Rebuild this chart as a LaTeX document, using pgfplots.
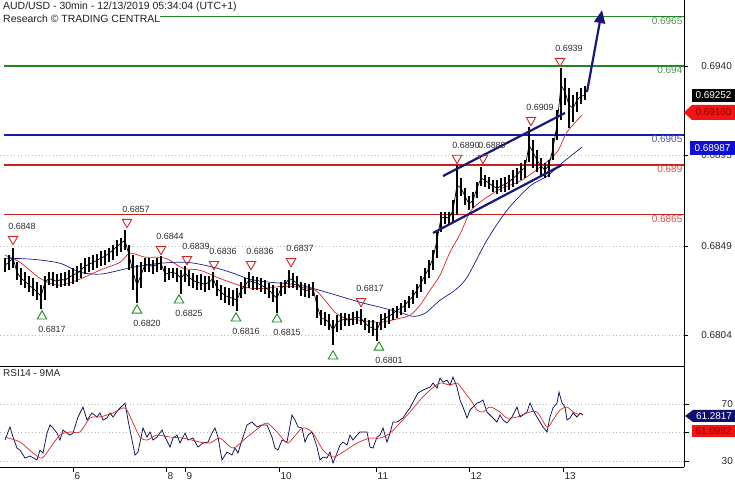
\documentclass[border=0pt]{standalone}
\usepackage{pgfplots}
\pgfplotsset{compat=1.18}
\usepackage{pgfplotstable}
\usepackage{fontspec}
\setmainfont{Liberation Sans}
\usetikzlibrary{arrows.meta}
\definecolor{lvgreen}{RGB}{34,135,34}
\definecolor{lvblue}{RGB}{25,25,170}
\definecolor{lvred}{RGB}{205,30,30}
\definecolor{txgreen}{RGB}{75,150,75}
\definecolor{txblue}{RGB}{80,80,185}
\definecolor{txred}{RGB}{220,75,75}
\definecolor{mared}{RGB}{210,40,40}
\definecolor{mablue}{RGB}{25,25,145}
\definecolor{chnavy}{RGB}{25,25,115}
\definecolor{rsinavy}{RGB}{15,15,80}
\definecolor{trired}{RGB}{205,40,40}
\definecolor{trigreen}{RGB}{30,140,30}
\definecolor{labgray}{RGB}{45,45,45}
\definecolor{boxred}{RGB}{240,20,20}
\definecolor{boxredtx}{RGB}{150,0,0}
\definecolor{boxblue}{RGB}{15,15,205}
\definecolor{boxnavy}{RGB}{15,15,110}
\newcommand\fa{\fontsize{10}{12}\selectfont}
\newcommand\fb{\fontsize{9}{11}\selectfont}
\newcommand\ft{\fontsize{10.5}{13}\selectfont}

\pgfplotstableread{
x h l c
5 0.68429 0.68358 0.68393
9 0.68444 0.68368 0.68408
13 0.68480 0.68378 0.68429
17 0.68408 0.68317 0.68358
21 0.68378 0.68292 0.68327
25 0.68358 0.68277 0.68312
29 0.68337 0.68257 0.68292
33 0.68327 0.68236 0.68277
37 0.68307 0.68216 0.68257
41 0.68292 0.68170 0.68236
45 0.68337 0.68216 0.68307
49 0.68358 0.68292 0.68327
53 0.68358 0.68287 0.68317
57 0.68348 0.68277 0.68312
61 0.68353 0.68282 0.68322
65 0.68358 0.68287 0.68317
69 0.68368 0.68287 0.68332
73 0.68378 0.68297 0.68343
77 0.68388 0.68307 0.68353
81 0.68403 0.68327 0.68368
85 0.68429 0.68348 0.68388
89 0.68434 0.68358 0.68398
93 0.68444 0.68368 0.68408
97 0.68449 0.68378 0.68418
101 0.68464 0.68388 0.68429
105 0.68469 0.68393 0.68439
109 0.68479 0.68408 0.68454
113 0.68494 0.68418 0.68469
117 0.68520 0.68439 0.68489
121 0.68530 0.68459 0.68504
125 0.68570 0.68469 0.68520
129 0.68494 0.68368 0.68444
133 0.68444 0.68267 0.68358
137 0.68393 0.68200 0.68292
141 0.68408 0.68277 0.68343
145 0.68429 0.68358 0.68398
149 0.68429 0.68358 0.68393
153 0.68418 0.68348 0.68388
157 0.68429 0.68358 0.68398
161 0.68440 0.68368 0.68403
165 0.68388 0.68307 0.68348
169 0.68378 0.68317 0.68353
173 0.68378 0.68327 0.68358
177 0.68378 0.68307 0.68348
181 0.68368 0.68250 0.68327
185 0.68390 0.68307 0.68353
189 0.68368 0.68287 0.68332
193 0.68353 0.68277 0.68317
197 0.68343 0.68267 0.68307
201 0.68348 0.68267 0.68302
205 0.68337 0.68257 0.68297
209 0.68337 0.68267 0.68307
213 0.68360 0.68277 0.68327
217 0.68317 0.68236 0.68277
221 0.68292 0.68216 0.68257
225 0.68282 0.68201 0.68241
229 0.68277 0.68191 0.68231
233 0.68267 0.68186 0.68226
237 0.68277 0.68160 0.68216
241 0.68307 0.68226 0.68267
245 0.68327 0.68246 0.68292
249 0.68360 0.68277 0.68317
253 0.68337 0.68267 0.68307
257 0.68332 0.68267 0.68302
261 0.68327 0.68257 0.68292
265 0.68317 0.68246 0.68282
269 0.68302 0.68226 0.68267
273 0.68292 0.68206 0.68246
277 0.68277 0.68150 0.68226
281 0.68307 0.68236 0.68277
285 0.68317 0.68246 0.68292
289 0.68370 0.68277 0.68327
293 0.68353 0.68277 0.68317
297 0.68337 0.68267 0.68302
301 0.68307 0.68236 0.68277
305 0.68302 0.68231 0.68267
309 0.68297 0.68226 0.68267
313 0.68307 0.68236 0.68277
317 0.68241 0.68125 0.68191
321 0.68165 0.68090 0.68125
325 0.68155 0.68084 0.68120
329 0.68145 0.68064 0.68105
333 0.68115 0.67988 0.68064
337 0.68140 0.68054 0.68105
341 0.68150 0.68064 0.68115
345 0.68150 0.68084 0.68120
349 0.68145 0.68084 0.68115
353 0.68155 0.68090 0.68125
357 0.68160 0.68095 0.68130
361 0.68170 0.68090 0.68125
365 0.68125 0.68064 0.68100
369 0.68115 0.68049 0.68084
373 0.68115 0.68034 0.68074
377 0.68105 0.68010 0.68064
381 0.68145 0.68064 0.68115
385 0.68150 0.68074 0.68125
389 0.68165 0.68095 0.68135
393 0.68176 0.68115 0.68150
397 0.68186 0.68125 0.68165
401 0.68201 0.68140 0.68176
405 0.68216 0.68155 0.68191
409 0.68236 0.68176 0.68216
413 0.68267 0.68196 0.68236
417 0.68297 0.68226 0.68267
421 0.68337 0.68257 0.68302
425 0.68378 0.68297 0.68343
429 0.68418 0.68327 0.68378
433 0.68469 0.68368 0.68429
437 0.68560 0.68429 0.68520
441 0.68661 0.68560 0.68631
445 0.68661 0.68601 0.68636
449 0.68661 0.68596 0.68631
453 0.68722 0.68611 0.68671
457 0.68900 0.68646 0.68798
461 0.68833 0.68742 0.68783
465 0.68783 0.68697 0.68742
469 0.68742 0.68671 0.68702
473 0.68763 0.68682 0.68722
477 0.68813 0.68732 0.68783
481 0.68890 0.68793 0.68833
485 0.68849 0.68788 0.68823
489 0.68838 0.68778 0.68808
493 0.68823 0.68763 0.68793
497 0.68823 0.68752 0.68783
501 0.68833 0.68763 0.68793
505 0.68838 0.68763 0.68803
509 0.68849 0.68773 0.68813
513 0.68874 0.68788 0.68833
517 0.68884 0.68803 0.68849
521 0.68909 0.68823 0.68874
525 0.68924 0.68833 0.68884
529 0.69090 0.68914 0.69000
533 0.69026 0.68884 0.68965
537 0.68975 0.68864 0.68924
541 0.68935 0.68849 0.68894
545 0.68909 0.68833 0.68874
549 0.68924 0.68838 0.68899
553 0.69036 0.68924 0.68985
557 0.69177 0.69026 0.69102
561 0.69390 0.69127 0.69304
565 0.69339 0.69203 0.69269
569 0.69289 0.69086 0.69203
573 0.69253 0.69117 0.69188
577 0.69269 0.69167 0.69228
581 0.69289 0.69208 0.69248
585 0.69299 0.69228 0.69252
}\bars

\pgfplotstableread{
x y
5 0.68444
20 0.68408
40 0.68327
58 0.68292
77 0.68317
100 0.68368
120 0.68408
130 0.68454
145 0.68434
165 0.68429
183 0.68378
200 0.68368
217 0.68332
233 0.68302
250 0.68277
267 0.68277
283 0.68287
300 0.68282
315 0.68267
325 0.68216
335 0.68155
345 0.68125
360 0.68115
380 0.68105
400 0.68125
410 0.68140
420 0.68191
430 0.68267
440 0.68343
450 0.68459
460 0.68550
470 0.68661
480 0.68712
500 0.68778
520 0.68818
540 0.68889
557 0.68965
567 0.69066
582 0.69152
}\redma

\pgfplotstableread{
x y
5 0.68429
33 0.68423
60 0.68403
80 0.68358
100 0.68348
120 0.68368
133 0.68383
160 0.68403
185 0.68408
200 0.68398
217 0.68378
233 0.68353
250 0.68322
270 0.68307
300 0.68292
330 0.68251
360 0.68206
380 0.68181
400 0.68155
413 0.68135
425 0.68150
440 0.68216
455 0.68267
467 0.68332
487 0.68520
507 0.68671
530 0.68793
547 0.68843
563 0.68914
582 0.68990
}\bluema

\pgfplotstableread{
x y
5 44.7
10 53.9
13 46.8
17 39.1
20 37.7
25 32.1
30 33.5
37 30.7
40 37.7
43 35.6
47 49.6
50 55.3
53 53.2
57 49.6
60 44.7
63 51.8
67 49.6
70 48.2
73 49.6
78 60.9
83 67.9
87 58.8
92 63.7
97 60.9
100 63.7
103 58.8
107 60.2
110 63.7
113 60.9
118 65.8
125 70.7
128 58.8
132 44.7
135 34.2
138 36.3
143 53.2
147 46.8
150 50.4
153 44.7
157 46.8
162 51.8
165 46.8
170 39.8
173 46.1
177 48.2
180 42.6
185 49.6
188 44.7
193 46.1
198 39.8
203 42.6
208 43.3
212 49.6
215 53.2
218 46.8
222 30.7
227 36.3
232 34.2
235 39.1
238 35.6
242 44.7
247 55.3
252 57.4
257 53.9
262 55.3
267 55.3
272 46.8
275 39.1
278 37.7
282 44.7
287 43.3
292 62.3
295 58.8
298 53.9
302 53.2
305 43.3
308 48.2
312 50.4
317 39.8
320 30.7
323 32.8
327 32.1
330 36.3
333 28.6
337 35.6
340 41.2
343 43.3
347 41.2
350 48.2
353 44.7
357 48.2
360 50.4
363 50.4
367 50.4
370 39.8
373 39.1
377 46.8
380 48.2
383 53.2
387 43.3
390 49.6
393 57.4
397 57.4
400 58.8
403 60.2
407 64.4
410 67.2
413 71.4
418 77.7
423 79.8
430 81.9
433 84.7
437 81.2
440 88.2
443 85.4
447 86.8
450 83.3
453 88.9
457 81.9
460 72.8
463 67.9
467 60.2
470 65.8
473 67.9
477 70.7
480 71.4
483 72.8
487 64.4
490 62.3
493 60.2
497 57.4
500 62.3
503 58.8
507 56.7
512 60.9
517 67.9
520 60.9
523 62.3
527 64.4
530 70.7
533 65.8
537 60.9
540 57.4
543 53.9
547 50.4
550 60.9
553 67.2
557 70.7
559 78.4
562 70.7
565 67.9
567 58.8
570 60.2
573 63.7
577 60.9
580 63.7
583 62.3
}\rsi

\pgfplotstableread{
x y
5 46.8
20 43.3
33 35.6
42 32.1
50 39.1
60 48.2
70 50.4
80 50.4
90 60.2
100 60.9
113 63.7
125 67.2
133 56.7
140 46.8
147 44.7
157 48.2
170 46.8
183 46.1
200 43.3
210 42.6
220 46.1
233 39.1
247 46.8
260 53.9
267 56.7
277 50.4
287 42.6
293 46.1
300 51.8
305 53.2
313 49.6
323 37.7
333 32.8
343 36.3
357 42.6
370 46.1
380 46.1
390 49.6
400 56.7
410 64.4
420 72.8
430 79.8
440 84.7
450 83.3
457 84.7
463 79.8
472 71.4
477 65.8
483 64.4
490 67.9
500 64.4
507 60.2
517 60.9
527 63.7
537 64.4
547 53.9
553 58.8
560 65.8
567 67.9
573 64.4
580 62.3
}\rsima

\pgfplotstableread{
x y lab
13 0.68525 0.6848
127 0.68611 0.6857
161 0.68474 0.6844
187 0.68423 0.6839
214 0.68398 0.6836
251 0.68398 0.6836
291 0.68413 0.6837
361 0.68211 0.6817
457 0.68935 0.6890
483 0.68935 0.6889
531 0.69127 0.6909
560 0.69425 0.6939
}\highs

\pgfplotstableread{
x y lab
42 0.68135 0.6817
137 0.68165 0.6820
179 0.68216 0.6825
236 0.68125 0.6816
277 0.68120 0.6815
379 0.67978 0.6801
}\lows

\begin{document}
\begin{tikzpicture}
\path[use as bounding box] (0,0) rectangle (735bp,480bp);

\begin{axis}[
  at={(0bp,114bp)}, anchor=south west, scale only axis,
  width=684bp, height=366bp,
  xmin=0, xmax=684, ymin=0.678836, ymax=0.69734,
  axis x line*=bottom, axis y line*=right,
  axis line style={black, line width=0.8bp},
  xtick=\empty,
  ytick={0.6804,0.6849,0.6895,0.6940},
  yticklabels={0.6804,0.6849,0.6895,0.6940},
  ymajorgrids,
  major grid style={black!28, line width=0.6bp, dash pattern=on 1bp off 2.5bp},
  tick align=outside, major tick length=4bp,
  tick style={black, line width=0.6bp},
  yticklabel style={font=\fa, text=black!85, anchor=east, inner sep=0pt, xshift=44bp},
  clip=false,
]
% level lines
\addplot[lvgreen, line width=1.7bp] coordinates {(160,0.6965) (684,0.6965)};
\addplot[lvgreen, line width=1.7bp] coordinates {(4,0.6940) (684,0.6940)};
\addplot[lvblue, line width=1.7bp] coordinates {(4,0.6905) (684,0.6905)};
\addplot[lvred, line width=1.7bp] coordinates {(4,0.6890) (684,0.6890)};
\addplot[lvred, line width=1.7bp] coordinates {(4,0.6865) (684,0.6865)};
\node[anchor=north east, inner sep=0.5pt, font=\fa, text=txgreen] at (axis cs:683,0.6965) {0.6965};
\node[anchor=north east, inner sep=0.5pt, font=\fa, text=txgreen] at (axis cs:683,0.6940) {0.694};
\node[anchor=north east, inner sep=0.5pt, font=\fa, text=txblue] at (axis cs:683,0.6905) {0.6905};
\node[anchor=north east, inner sep=0.5pt, font=\fa, text=txred] at (axis cs:683,0.6890) {0.689};
\node[anchor=north east, inner sep=0.5pt, font=\fa, text=txred] at (axis cs:683,0.6865) {0.6865};
% moving averages
\addplot[mablue, line width=0.7bp, smooth] table[x=x,y=y] {\bluema};
\addplot[mared, line width=0.7bp, smooth] table[x=x,y=y] {\redma};
% price bars
\addplot[black, line width=0.7bp,
  error bars/.cd, y dir=both, y explicit, error mark=none,
  error bar style={black, line width=2.1bp}]
  table[x=x, y=c, y error plus expr=\thisrow{h}-\thisrow{c}, y error minus expr=\thisrow{c}-\thisrow{l}] {\bars};
% channel and target arrow
\addplot[chnavy, line width=2.2bp] coordinates {(443,0.68844) (565,0.69163)};
\addplot[chnavy, line width=2.2bp] coordinates {(433,0.68556) (562,0.68900)};
\addplot[chnavy, line width=2.2bp, -{Triangle[length=13bp,width=11bp]}] coordinates {(587,0.69269) (602,0.69683)};
% swing markers
\addplot[only marks, mark=triangle, mark size=5.5bp,
  mark options={rotate=180, draw=trired, line width=0.9bp, fill=none},
  nodes near coords, point meta=explicit symbolic,
  every node near coord/.style={anchor=center, xshift=9bp, yshift=13bp, font=\fb, text=labgray, inner sep=0pt}]
  table[x=x, y=y, meta=lab] {\highs};
\addplot[only marks, mark=triangle, mark size=5.5bp,
  mark options={draw=trigreen, line width=0.9bp, fill=none},
  nodes near coords, point meta=explicit symbolic,
  every node near coord/.style={anchor=center, xshift=10bp, yshift=-13bp, font=\fb, text=labgray, inner sep=0pt}]
  table[x=x, y=y, meta=lab] {\lows};
\addplot[only marks, mark=triangle, mark size=5.5bp,
  mark options={draw=trigreen, line width=0.9bp, fill=none}]
  coordinates {(333,0.67933)};
\end{axis}

\begin{axis}[
  at={(0bp,13bp)}, anchor=south west, scale only axis,
  width=684bp, height=101bp,
  xmin=0, xmax=684, ymin=25.8, ymax=96.7,
  axis x line*=bottom, axis y line*=right,
  axis line style={black, line width=0.8bp},
  xtick={73,166,185,279,376,469,563},
  xticklabels={6,8,9,10,11,12,13},
  ytick={30,50,70}, yticklabels={30,,70},
  ymajorgrids,
  major grid style={black!28, line width=0.6bp, dash pattern=on 1bp off 2.5bp},
  tick align=outside, major tick length=5bp,
  tick style={black, line width=0.6bp},
  yticklabel style={font=\fa, text=black!85, anchor=east, inner sep=0pt, xshift=44bp},
  xticklabel style={font=\fa, text=black!85, anchor=north west, inner sep=0pt, xshift=1.5bp},
  clip=false,
]
\addplot[rsinavy, line width=0.75bp] table[x=x,y=y] {\rsi};
\addplot[mared, line width=0.7bp, smooth] table[x=x,y=y] {\rsima};
\end{axis}

% title texts
\node[anchor=north west, inner sep=0pt, align=left, font=\ft, text=black!88] at (3bp,478bp)
  {AUD/USD - 30min - 12/13/2019 05:34:04 (UTC+1)\\Research © TRADING CENTRAL};
\node[anchor=north west, inner sep=0pt, font=\fa, text=black!85] at (3bp,111bp) {RSI14 - 9MA};

% right-hand value boxes
\fill[black] (692bp,378bp) rectangle (735bp,391bp);
\node[font=\fa, text=white, inner sep=0pt] at (713.5bp,384.5bp) {0.69252};
\fill[boxred] (684bp,367.5bp) -- (692bp,375bp) -- (735bp,375bp) -- (735bp,360bp) -- (692bp,360bp) -- cycle;
\node[font=\fa, text=boxredtx, inner sep=0pt] at (713.5bp,367.5bp) {0.69160};
\fill[boxblue] (690bp,325bp) rectangle (735bp,339bp);
\node[font=\fa, text=white, inner sep=0pt] at (712.5bp,332bp) {0.68987};
\fill[boxnavy] (685bp,64bp) -- (693bp,70bp) -- (735bp,70bp) -- (735bp,58bp) -- (693bp,58bp) -- cycle;
\node[font=\fa, text=white, inner sep=0pt] at (714bp,64bp) {61.2817};
\fill[boxred] (692bp,43bp) rectangle (735bp,55bp);
\node[font=\fa, text=boxredtx, inner sep=0pt] at (713.5bp,49bp) {61.0982};
\end{tikzpicture}
\end{document}
